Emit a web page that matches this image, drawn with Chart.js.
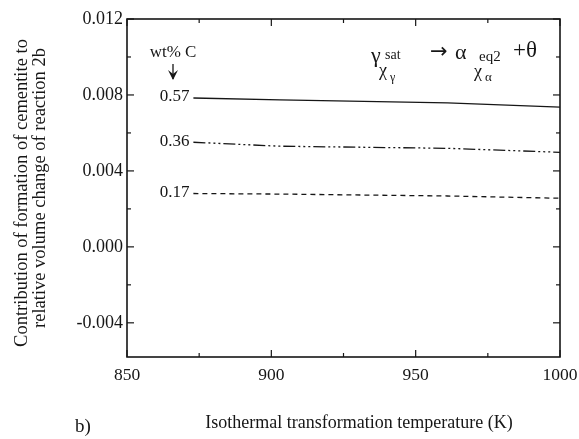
<!DOCTYPE html>
<html>
<head>
<meta charset="utf-8">
<script src="https://cdn.jsdelivr.net/npm/chart.js@4"></script>
<style>
  html, body { margin: 0; padding: 0; background: #fff; }
  #wrap { width: 579px; height: 439px; position: relative; }
</style>
</head>
<body>
<div id="wrap"><canvas id="chart"></canvas></div>
<script>
// Data (temperature in K, contribution to volume change)
const temps = [873, 903, 961, 1000];
const c057 = [0.00784, 0.00774, 0.00758, 0.00736];
const c036 = [0.00551, 0.00530, 0.00519, 0.00498];
const c017 = [0.00281, 0.00278, 0.00268, 0.00256];
const seriesLabels = ['0.57', '0.36', '0.17'];

const xTicks = [850, 900, 950, 1000];
const xMinor = [875, 925, 975];
const yTicks = [-0.004, 0.000, 0.004, 0.008, 0.012];
const yMinor = [-0.002, 0.002, 0.006, 0.010];

const serif = "'Liberation Serif', 'DejaVu Serif', serif";
const ink = '#161616';

const toPoints = (ys) => temps.map((t, i) => ({ x: t, y: ys[i] }));

// Frame with inward-pointing ticks on all four sides
const framePlugin = {
    id: 'frame',
    afterDraw: (chart) => {
        const ctx = chart.ctx;
        const a = chart.chartArea;
        const xs = chart.scales.x;
        const ys = chart.scales.y;
        ctx.save();
        ctx.strokeStyle = ink;
        ctx.lineWidth = 1.6;
        ctx.strokeRect(a.left, a.top, a.right - a.left, a.bottom - a.top);
        ctx.lineWidth = 1.2;
        const tick = (x1, y1, x2, y2) => {
            ctx.beginPath();
            ctx.moveTo(x1, y1);
            ctx.lineTo(x2, y2);
            ctx.stroke();
        };
        xTicks.concat(xMinor).forEach(v => {
            const len = xTicks.includes(v) ? 7 : 4;
            const x = xs.getPixelForValue(v);
            tick(x, a.bottom, x, a.bottom - len);
            tick(x, a.top, x, a.top + len);
        });
        yTicks.concat(yMinor).forEach(v => {
            const len = yTicks.includes(v) ? 7 : 4;
            const y = ys.getPixelForValue(v);
            tick(a.left, y, a.left + len, y);
            tick(a.right, y, a.right - len, y);
        });
        ctx.restore();
    }
};

// Texts: axis titles, series labels, reaction equation
const textPlugin = {
    id: 'texts',
    afterDraw: (chart) => {
        const ctx = chart.ctx;
        const xs = chart.scales.x;
        const ys = chart.scales.y;
        ctx.save();
        ctx.fillStyle = ink;
        ctx.strokeStyle = ink;

        // y-axis title, two rotated lines
        ctx.font = '18.5px ' + serif;
        ctx.textAlign = 'center';
        ctx.textBaseline = 'middle';
        ctx.save();
        ctx.translate(22, 193);
        ctx.rotate(-Math.PI / 2);
        ctx.fillText('Contribution of formation of cementite to', 0, 0);
        ctx.restore();
        ctx.save();
        ctx.translate(40, 188);
        ctx.rotate(-Math.PI / 2);
        ctx.fillText('relative volume change of reaction 2b', 0, 0);
        ctx.restore();

        // x-axis title and panel letter
        ctx.font = '18px ' + serif;
        ctx.fillText('Isothermal transformation temperature (K)', 359, 423);
        ctx.font = '19px ' + serif;
        ctx.fillText('b)', 83, 427);

        // series labels at the start of each line
        ctx.font = '17px ' + serif;
        ctx.textAlign = 'right';
        const starts = [c057[0], c036[0], c017[0]];
        seriesLabels.forEach((lab, i) => {
            ctx.fillText(lab, xs.getPixelForValue(temps[0]) - 4, ys.getPixelForValue(starts[i]) - 1);
        });

        // "wt% C" with arrow
        ctx.textAlign = 'center';
        ctx.font = '17px ' + serif;
        ctx.fillText('wt% C', 173, 53);
        ctx.lineWidth = 1.3;
        ctx.beginPath();
        ctx.moveTo(173, 64);
        ctx.lineTo(173, 79);
        ctx.stroke();
        ctx.beginPath();
        ctx.moveTo(168, 70);
        ctx.lineTo(173, 80);
        ctx.lineTo(178, 70);
        ctx.lineTo(173, 74);
        ctx.closePath();
        ctx.fill();

        // reaction: gamma_{chi_gamma}^{sat} -> alpha_{chi_alpha}^{eq2} + theta
        ctx.textAlign = 'left';
        ctx.textBaseline = 'alphabetic';
        ctx.font = '22px ' + serif;
        ctx.fillText('\u03B3', 371, 62);
        ctx.font = '14px ' + serif;
        ctx.fillText('sat', 385, 59);
        ctx.font = '18px ' + serif;
        ctx.fillText('\u03C7', 379, 76);
        ctx.font = '12px ' + serif;
        ctx.fillText('\u03B3', 390, 81);
        ctx.font = "21px 'DejaVu Sans', sans-serif";
        ctx.fillText('\u2192', 430, 58);
        ctx.font = '22px ' + serif;
        ctx.fillText('\u03B1', 455, 59);
        ctx.font = '15px ' + serif;
        ctx.fillText('eq2', 479, 61);
        ctx.font = '18px ' + serif;
        ctx.fillText('\u03C7', 474, 77);
        ctx.font = '13px ' + serif;
        ctx.fillText('\u03B1', 485, 81);
        ctx.font = '23px ' + serif;
        ctx.fillText('+\u03B8', 513, 57);
        ctx.restore();
    }
};

const lineStyle = (dash) => ({
    borderColor: ink,
    borderWidth: 1.3,
    borderDash: dash,
    pointRadius: 0,
    fill: false,
    tension: 0
});

new Chart(document.getElementById('chart'), {
    type: 'line',
    data: {
        datasets: [
            Object.assign({ label: seriesLabels[0], data: toPoints(c057) }, lineStyle([])),
            Object.assign({ label: seriesLabels[1], data: toPoints(c036) }, lineStyle([12, 3, 2, 3, 2, 3, 2, 3])),
            Object.assign({ label: seriesLabels[2], data: toPoints(c017) }, lineStyle([5, 4]))
        ]
    },
    options: {
        responsive: true,
        maintainAspectRatio: false,
        animation: false,
        layout: { padding: { left: 0, top: 19, right: 19, bottom: 0 } },
        plugins: {
            legend: { display: false },
            tooltip: { enabled: false }
        },
        scales: {
            x: {
                type: 'linear',
                min: 850,
                max: 1000,
                afterBuildTicks: (s) => { s.ticks = xTicks.map(v => ({ value: v })); },
                afterFit: (s) => { s.height = 82; s.paddingLeft = 0; s.paddingRight = 0; },
                grid: { display: false, drawTicks: false },
                border: { display: false },
                ticks: {
                    color: ink,
                    padding: 8,
                    maxRotation: 0,
                    font: { family: serif, size: 17.5 },
                    callback: (v) => String(v)
                }
            },
            y: {
                type: 'linear',
                min: -0.0058,
                max: 0.012,
                afterBuildTicks: (s) => { s.ticks = yTicks.map(v => ({ value: v })); },
                afterFit: (s) => { s.width = 127; s.paddingTop = 0; s.paddingBottom = 0; },
                grid: { display: false, drawTicks: false },
                border: { display: false },
                ticks: {
                    color: ink,
                    padding: 4,
                    font: { family: serif, size: 18 },
                    callback: (v) => Number(v).toFixed(3)
                }
            }
        }
    },
    plugins: [framePlugin, textPlugin]
});
</script>
</body>
</html>
